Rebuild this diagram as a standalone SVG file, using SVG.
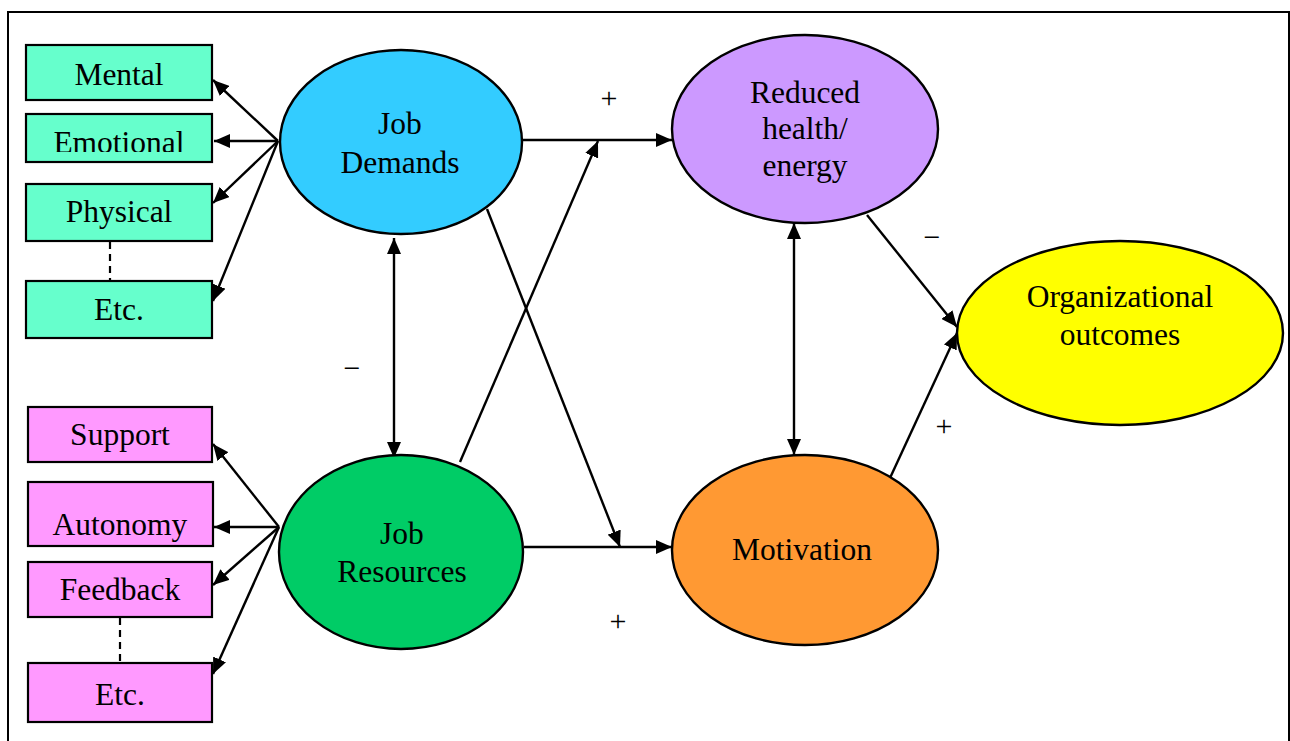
<svg xmlns="http://www.w3.org/2000/svg" width="1290" height="741" viewBox="0 0 1290 741">
  <style>
    .box { stroke: #000; stroke-width: 2.2; }
    .dem { fill: #66FFCC; }
    .res { fill: #FF99FF; }
    .ell { stroke: #000; stroke-width: 2.4; }
    .lbl { font-family: "Liberation Serif", "Times New Roman", serif; font-size: 31.5px; fill: #000; text-anchor: middle; }
    .sign { font-family: "Liberation Serif", "Times New Roman", serif; font-size: 30px; fill: #000; text-anchor: middle; }
    .edge { stroke: #000; stroke-width: 2.4; fill: none; }
    .dash { stroke: #000; stroke-width: 2.2; stroke-dasharray: 7 5; fill: none; }
  </style>
  <defs>
    <marker id="arrow" markerUnits="userSpaceOnUse" markerWidth="16" markerHeight="14" refX="16" refY="7" orient="auto-start-reverse">
      <path d="M0,0 L16,7 L0,14 Z" fill="#000"/>
    </marker>
    <clipPath id="clipEmotional">
      <rect x="27" y="114" width="184" height="38"/>
    </clipPath>
  </defs>

  <rect width="1290" height="741" fill="#fff"/>
  <!-- outer frame -->
  <rect x="8" y="12" width="1281" height="760" fill="none" stroke="#000" stroke-width="2"/>

  <!-- connectors -->
  <g id="connectors">
    <!-- demand facets -->
    <line class="edge" x1="278" y1="141" x2="213" y2="80" marker-end="url(#arrow)"/>
    <line class="edge" x1="278" y1="141" x2="214" y2="141" marker-end="url(#arrow)"/>
    <line class="edge" x1="278" y1="141" x2="213" y2="203" marker-end="url(#arrow)"/>
    <line class="edge" x1="278" y1="141" x2="213" y2="301" marker-end="url(#arrow)"/>
    <line class="dash" x1="110" y1="242" x2="110" y2="281"/>
    <!-- resource facets -->
    <line class="edge" x1="279" y1="527" x2="213" y2="444" marker-end="url(#arrow)"/>
    <line class="edge" x1="279" y1="527" x2="214" y2="527" marker-end="url(#arrow)"/>
    <line class="edge" x1="279" y1="527" x2="213" y2="585" marker-end="url(#arrow)"/>
    <line class="edge" x1="279" y1="527" x2="213" y2="674" marker-end="url(#arrow)"/>
    <line class="dash" x1="120" y1="618" x2="120" y2="663"/>
    <!-- main paths -->
    <line class="edge" x1="522" y1="140" x2="672" y2="140" marker-end="url(#arrow)"/>
    <line class="edge" x1="524" y1="547" x2="672" y2="547" marker-end="url(#arrow)"/>
    <line class="edge" x1="460" y1="462" x2="598" y2="141" marker-end="url(#arrow)"/>
    <line class="edge" x1="487" y1="209" x2="620" y2="547" marker-end="url(#arrow)"/>
    <line class="edge" x1="394" y1="238" x2="394" y2="458" marker-start="url(#arrow)" marker-end="url(#arrow)"/>
    <line class="edge" x1="794" y1="223" x2="794" y2="455" marker-start="url(#arrow)" marker-end="url(#arrow)"/>
    <line class="edge" x1="867" y1="215" x2="957" y2="327" marker-end="url(#arrow)"/>
    <line class="edge" x1="890" y1="478" x2="957" y2="333" marker-end="url(#arrow)"/>
  </g>

  <!-- path signs -->
  <g id="signs">
    <text class="sign" x="609" y="108">+</text>
    <text class="sign" x="618" y="631">+</text>
    <text class="sign" x="352" y="378">−</text>
    <text class="sign" x="932" y="247">−</text>
    <text class="sign" x="944" y="436">+</text>
  </g>

  <!-- demand facet boxes -->
  <g id="mental">
    <rect class="box dem" x="26" y="45" width="186" height="55"/>
    <text class="lbl" x="119" y="85">Mental</text>
  </g>
  <g id="emotional">
    <rect class="box dem" x="26" y="114" width="186" height="48"/>
    <text class="lbl" x="119" y="153" clip-path="url(#clipEmotional)">Emotional</text>
  </g>
  <g id="physical">
    <rect class="box dem" x="26" y="184" width="186" height="57"/>
    <text class="lbl" x="119" y="222">Physical</text>
  </g>
  <g id="demand-etc">
    <rect class="box dem" x="26" y="281" width="186" height="57"/>
    <text class="lbl" x="119" y="320">Etc.</text>
  </g>

  <!-- resource facet boxes -->
  <g id="support">
    <rect class="box res" x="28" y="407" width="184" height="55"/>
    <text class="lbl" x="120" y="445">Support</text>
  </g>
  <g id="autonomy">
    <rect class="box res" x="28" y="482" width="185" height="64"/>
    <text class="lbl" x="120" y="535">Autonomy</text>
  </g>
  <g id="feedback">
    <rect class="box res" x="28" y="562" width="184" height="55"/>
    <text class="lbl" x="120" y="600">Feedback</text>
  </g>
  <g id="resource-etc">
    <rect class="box res" x="28" y="663" width="184" height="59"/>
    <text class="lbl" x="120" y="705">Etc.</text>
  </g>

  <!-- constructs -->
  <g id="job-demands">
    <ellipse class="ell" cx="401" cy="142" rx="121" ry="92" fill="#33CCFF"/>
    <text class="lbl" x="400" y="134">Job</text>
    <text class="lbl" x="400" y="173">Demands</text>
  </g>
  <g id="job-resources">
    <ellipse class="ell" cx="401" cy="552" rx="122" ry="97" fill="#00CC66"/>
    <text class="lbl" x="402" y="544">Job</text>
    <text class="lbl" x="402" y="582">Resources</text>
  </g>
  <g id="reduced-health">
    <ellipse class="ell" cx="805" cy="129" rx="133" ry="94" fill="#CC99FF"/>
    <text class="lbl" x="805" y="103">Reduced</text>
    <text class="lbl" x="805" y="139">health/</text>
    <text class="lbl" x="805" y="176">energy</text>
  </g>
  <g id="motivation">
    <ellipse class="ell" cx="805" cy="550" rx="133" ry="95" fill="#FF9933"/>
    <text class="lbl" x="802" y="560">Motivation</text>
  </g>
  <g id="organizational-outcomes">
    <ellipse class="ell" cx="1120" cy="333" rx="163" ry="92" fill="#FFFF00"/>
    <text class="lbl" x="1120" y="307">Organizational</text>
    <text class="lbl" x="1120" y="345">outcomes</text>
  </g>
</svg>
